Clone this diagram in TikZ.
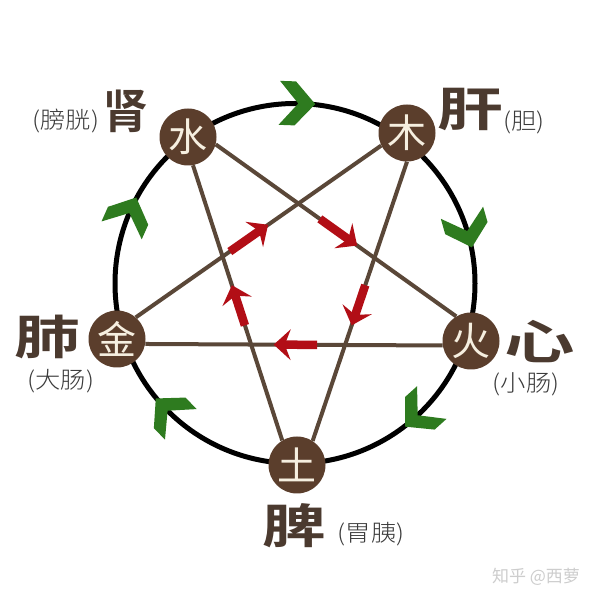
\documentclass[tikz,border=0pt]{standalone}
\usepackage{fontspec}
\usepackage{graphicx}
\usetikzlibrary{calc}
\newfontfamily\cjk{Noto Sans CJK SC}
\IfFontExistsTF{Noto Sans CJK SC Bold}{\newfontfamily\cjkb{Noto Sans CJK SC Bold}}{\newfontfamily\cjkb{Noto Sans CJK SC}[FakeBold=2]}
\IfFontExistsTF{Noto Sans CJK SC Light}{\newfontfamily\cjkl{Noto Sans CJK SC Light}}{\newfontfamily\cjkl{Noto Sans CJK SC}}
\definecolor{nodebrown}{HTML}{5B3E2C}
\definecolor{cream}{HTML}{F6EFE0}
\definecolor{starc}{HTML}{5A4738}
\definecolor{redc}{HTML}{B20E16}
\definecolor{greenc}{HTML}{2E7B1F}
\definecolor{orgc}{HTML}{4B3A2F}
\definecolor{parc}{HTML}{3A3A3A}
\definecolor{markc}{HTML}{CDCDCD}
\pgfdeclarelayer{bg}
\pgfsetlayers{bg,main}
% red overcoming arrow from #1 (tail) to #2 (tip)
\newcommand\redke[2]{%
  \coordinate (kb) at ($(#2)!17pt!(#1)$);
  \coordinate (kn) at ($(#2)!11pt!(#1)$);
  \draw[keshaft] (#1) -- (kn);
  \fill[kehead] (#2) -- ($(kb)!15.5pt!90:(#2)$) -- (kn) -- ($(kb)!15.5pt!-90:(#2)$) -- cycle;
}
\begin{document}
\begin{tikzpicture}[x=1pt,y=1pt,
  elem/.style={circle, fill=nodebrown, minimum size=57pt, inner sep=0pt, text=cream, font=\cjk\fontsize{39}{39}\selectfont},
  organ/.style={inner sep=0pt, text=orgc, font=\cjkb\fontsize{47}{47}\selectfont},
  paren/.style={inner sep=0pt, text=parc, font=\cjkl\fontsize{23}{23}\selectfont},
  starline/.style={draw=starc, line width=4pt},
  ring/.style={draw=black, line width=5pt},
  keshaft/.style={draw=redc, line width=8.5pt},
  kehead/.style={fill=redc},
  chev/.style={fill=greenc}]
\useasboundingbox (0,0) rectangle (600,600);
% element nodes
\node[elem] (shui) at (188,463) {水};
\node[elem] (mu)   at (407,467) {木};
\node[elem] (jin)  at (117,261) {金};
\node[elem] (huo)  at (471,259) {火};
\node[elem] (tu)   at (297,135) {土};
% organ labels
\node[organ, xscale=0.95] (shen) at (126,489) {肾};
\node[paren, xscale=1.1] (shenp) at (66,479) {(膀胱)};
\node[organ, xscale=1.4] (gan) at (470,491) {肝};
\node[paren, xscale=1.1] (ganp) at (524,478) {(胆)};
\node[organ, xscale=1.4] (fei) at (47,263) {肺};
\node[paren, xscale=1.1] (feip) at (61,219) {(大肠)};
\node[organ, xscale=1.5] (xin) at (540,258) {心};
\node[paren, xscale=1.1] (xinp) at (526,216) {(小肠)};
\node[organ, xscale=1.35] (pi) at (294,74) {脾};
\node[paren, xscale=1.1] (pip) at (371,66) {(胃胰)};
\node[inner sep=0pt, text=markc, font=\cjk\fontsize{17}{17}\selectfont] (mark) at (536,23) {知乎 @西萝};
\begin{pgfonlayer}{bg}
\fill[white] (0,0) rectangle (600,600);
\draw[ring] (295,316.5) circle[radius=180];
% star lines with arrow positions
\draw[starline] (shui.-15) -- coordinate[pos=0.433] (r1s) coordinate[pos=0.588] (r1e) (huo.121);
\draw[starline] (mu.-90) -- coordinate[pos=0.442] (r2s) coordinate[pos=0.586] (r2e) (tu.57);
\draw[starline] (huo.189) -- coordinate[pos=0.422] (r3s) coordinate[pos=0.568] (r3e) (jin.-10);
\draw[starline] (tu.121) -- coordinate[pos=0.418] (r4s) coordinate[pos=0.564] (r4e) (shui.-80);
\draw[starline] (jin.49) -- coordinate[pos=0.383] (r5s) coordinate[pos=0.539] (r5e) (mu.206);
% green chevrons (generating cycle)
\foreach \a in {88,16,312,224,156}{
  \begin{scope}[shift={(295,316.5)}, rotate=\a]
    \fill[chev] (202,22) -- (202,6) -- (180,-14) -- (158,6) -- (158,22) -- (180,3) -- cycle;
  \end{scope}
}
% red arrows (overcoming cycle)
\redke{r1s}{r1e}
\redke{r2s}{r2e}
\redke{r3s}{r3e}
\redke{r4s}{r4e}
\redke{r5s}{r5e}
\end{pgfonlayer}
\end{tikzpicture}
\end{document}
